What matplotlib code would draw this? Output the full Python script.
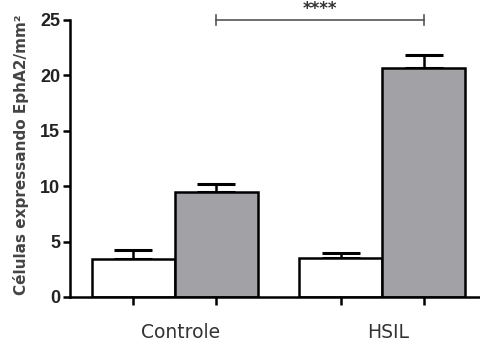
import matplotlib
matplotlib.use("Agg")
import matplotlib.pyplot as plt
import matplotlib.transforms as mtransforms
import numpy as np

grupos = ["Controle", "HSIL"]
valores_branco = [3.4, 3.5]
erro_branco = [0.8, 0.5]
valores_cinza = [9.5, 20.7]
erro_cinza = [0.7, 1.1]
significancia = "****"

plt.rcParams['font.family'] = ['Liberation Sans', 'DejaVu Sans']

fig = plt.figure(figsize=(4.81, 3.47), dpi=100)
ax = fig.add_axes([0.1455, 0.1441, 0.8545, 0.7983])

centros = np.array([0, 2.5])
larg = 1.0
cor_cinza = "#a2a2a6"

ax.bar(centros - 0.5, valores_branco, width=larg, color="white", edgecolor="black",
       linewidth=1.8, zorder=2)
ax.bar(centros + 0.5, valores_cinza, width=larg, color=cor_cinza, edgecolor="black",
       linewidth=1.8, zorder=2)
ax.errorbar(centros - 0.5, valores_branco, yerr=[np.zeros(2), erro_branco], fmt="none",
            ecolor="black", elinewidth=1.8, capsize=14, capthick=2.2, zorder=1)
ax.errorbar(centros + 0.5, valores_cinza, yerr=[np.zeros(2), erro_cinza], fmt="none",
            ecolor="black", elinewidth=1.8, capsize=14, capthick=2.2, zorder=1)

# barra de significancia
x1, x2 = centros[0] + 0.5, centros[1] + 0.5
yb = 25.0
ax.plot([x1, x2], [yb, yb], color="#555555", lw=1.2, clip_on=False)
ax.plot([x1, x1], [yb - 0.45, yb + 0.45], color="#555555", lw=1.2, clip_on=False)
ax.plot([x2, x2], [yb - 0.45, yb + 0.45], color="#555555", lw=1.2, clip_on=False)
ax.text((x1 + x2) / 2, yb + 0.5, significancia, ha="center", va="baseline",
        fontsize=12, fontweight="bold", color="#333333", family="DejaVu Sans",
        clip_on=False)

ax.set_ylim(0, 25)
ax.set_xlim(-1.265, 3.69)
ax.set_yticks([0, 5, 10, 15, 20, 25])
ax.tick_params(axis="y", labelsize=13, width=1.8, length=5, pad=2)
for t in ax.get_yticklabels():
    t.set_fontweight("bold")
    t.set_color("#222222")

ax.set_xticks(centros)
ax.set_xticklabels(grupos, fontsize=13.5, color="#333333", family="DejaVu Sans")
ax.tick_params(axis="x", which="major", length=0, pad=19)
desloc = mtransforms.ScaledTranslation(6 / 100, 0, fig.dpi_scale_trans)
for t in ax.get_xticklabels():
    t.set_transform(t.get_transform() + desloc)
ax.set_xticks(np.concatenate([centros - 0.5, centros + 0.5]), minor=True)
ax.tick_params(axis="x", which="minor", length=6, width=1.8)

ax.set_ylabel("Células expressando EphA2/mm²", fontsize=11, fontweight="bold",
              color="#444444", family="DejaVu Sans", va="center")
ax.yaxis.set_label_coords(-0.119, 0.514)

for s in ["top", "right"]:
    ax.spines[s].set_visible(False)
ax.spines["left"].set_linewidth(1.8)
ax.spines["bottom"].set_linewidth(1.8)

fig.savefig("out.png", dpi=100)
